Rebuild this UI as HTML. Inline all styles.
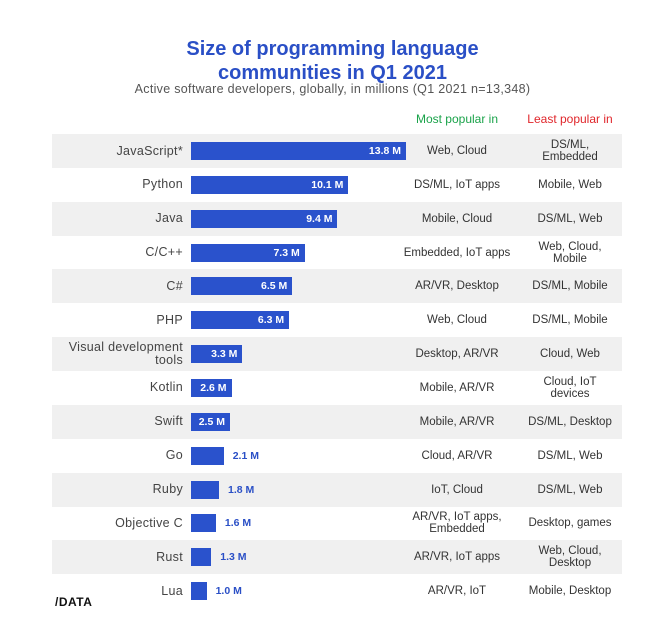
<!DOCTYPE html>
<html><head><meta charset="utf-8"><style>
body{margin:0;background:#fff;font-family:"Liberation Sans",sans-serif}
#c{position:relative;width:665px;height:635px;overflow:hidden}
.t{position:absolute;left:0;width:665px;text-align:center;color:#2a4fc6;font-weight:bold;font-size:20px}
.s{position:absolute;left:0;width:665px;text-align:center;color:#555;font-size:12.5px;top:82px;letter-spacing:.3px}
.h{position:absolute;top:112px;font-size:12px;text-align:center;width:120px}
</style></head><body>
<div id="c">
<div class="t" style="top:38px">Size of programming language</div>
<div class="t" style="top:62px">communities in Q1 2021</div>
<div class="s">Active software developers, globally, in millions (Q1 2021 n=13,348)</div>
<div class="h" style="left:397px;color:#1aa34a">Most popular in</div>
<div class="h" style="left:510px;color:#e0262b">Least popular in</div>
<div id="rows"></div>
<div style="position:absolute;left:55px;top:595px;font-size:12px;font-weight:bold;color:#111;letter-spacing:.5px">/DATA</div>
</div>
<script>
const languages=["JavaScript*","Python","Java","C/C++","C#","PHP","Visual development tools","Kotlin","Swift","Go","Ruby","Objective C","Rust","Lua"];
const values=[13.8,10.1,9.4,7.3,6.5,6.3,3.3,2.6,2.5,2.1,1.8,1.6,1.3,1.0];
const valueLabels=["13.8 M","10.1 M","9.4 M","7.3 M","6.5 M","6.3 M","3.3 M","2.6 M","2.5 M","2.1 M","1.8 M","1.6 M","1.3 M","1.0 M"];
const mostPopular=["Web, Cloud","DS/ML, IoT apps","Mobile, Cloud","Embedded, IoT apps","AR/VR, Desktop","Web, Cloud","Desktop, AR/VR","Mobile, AR/VR","Mobile, AR/VR","Cloud, AR/VR","IoT, Cloud","AR/VR, IoT apps, Embedded","AR/VR, IoT apps","AR/VR, IoT"];
const leastPopular=["DS/ML, Embedded","Mobile, Web","DS/ML, Web","Web, Cloud, Mobile","DS/ML, Mobile","DS/ML, Mobile","Cloud, Web","Cloud, IoT devices","DS/ML, Desktop","DS/ML, Web","DS/ML, Web","Desktop, games","Web, Cloud, Desktop","Mobile, Desktop"];
const x0=191, pxPer=215/13.8, top0=134, pitch=33.85;
const xs=v=>v*pxPer;
const R=document.getElementById('rows');
languages.forEach((l,i)=>{
 const y=top0+i*pitch;
 const row=document.createElement('div');
 
 
 row.style.cssText=`position:absolute;left:52px;top:${y}px;width:570px;height:34px;${i%2==0?'background:#f0f0f0;':''}`;
 R.appendChild(row);
 const lab=document.createElement('div');
 
 
 lab.style.cssText=`position:absolute;right:${665-183}px;top:${y}px;height:34px;width:140px;display:flex;align-items:center;justify-content:flex-end;text-align:right;font-size:12.5px;color:#444;line-height:13px;letter-spacing:.3px`;
 lab.textContent=l;R.appendChild(lab);
 const w=xs(values[i]);
 const bar=document.createElement('div');
 
 
 bar.style.cssText=`position:absolute;left:${x0}px;top:${y+8}px;width:${w}px;height:18px;background:#2a52cc`;
 R.appendChild(bar);
 const vl=document.createElement('div');
 
 
 const inside=values[i]>=2.4;
 vl.style.cssText=`position:absolute;top:${y+10}px;font-size:10.5px;font-weight:bold;line-height:14px;white-space:nowrap;`+(inside?`right:${665-x0-w+5}px;color:#fff`:`left:${x0+w+9}px;color:#2a4fc6`);
 vl.textContent=valueLabels[i];R.appendChild(vl);
 [[mostPopular[i],402,110,'most-popular-cell'],[leastPopular[i],523,94,'least-popular-cell']].forEach(([t,x,cw,n])=>{
  const d=document.createElement('div');
  
  
  d.style.cssText=`position:absolute;left:${x}px;top:${y}px;width:${cw}px;height:34px;display:flex;align-items:center;justify-content:center;text-align:center;font-size:11.5px;color:#333;line-height:12px`;
  d.textContent=t;R.appendChild(d);
 });
});
</script>
</body></html>
